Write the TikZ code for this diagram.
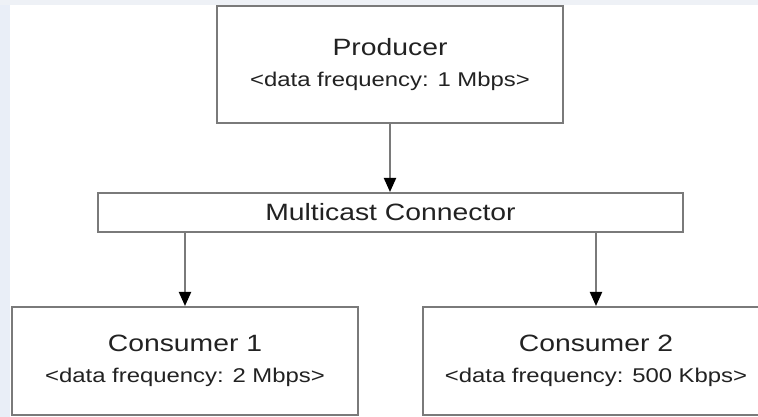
\documentclass[tikz,border=0pt]{standalone}
\usepackage{fontspec}
\setmainfont{Liberation Sans}
\newfontfamily\diafont[FakeStretch=1.2]{Liberation Sans}
\usetikzlibrary{arrows.meta}
\definecolor{ink}{HTML}{222222}
\definecolor{edge}{HTML}{7A7A7A}
\definecolor{slidebg}{HTML}{E9EEF7}
\definecolor{slidetop}{HTML}{EEF1F6}
\newcommand{\bigtxt}{\fontsize{23.6}{31}\selectfont}
\newcommand{\subtxt}{\fontsize{19.9}{31}\selectfont}

\begin{document}
\begin{tikzpicture}[x=1pt,y=1pt,font=\diafont,text=ink,
  comp/.style={draw=edge,line width=2pt,fill=white,minimum width=346pt,align=center,inner sep=0pt},
  conn/.style={draw=edge,line width=2pt,fill=white,minimum width=585pt,minimum height=39pt,inner sep=0pt},
  flow/.style={draw=edge,line width=2pt,-{Triangle[length=14pt,width=12pt,color=black]}}]

  \clip (0,0) rectangle (758,417);
  % slide background
  \fill[white] (0,0) rectangle (758,417);
  \fill[slidebg] (0,0) rectangle (10,417);
  \fill[slidetop] (0,412) rectangle (758,417);

  % components
  \node[comp,minimum height=117pt] (prod) at (390,352.5)
    {\bigtxt Producer\\[16pt]\subtxt <data frequency: 1 Mbps>};
  \node[conn] (mc) at (390.5,204.5) {\bigtxt Multicast Connector};
  \node[comp,minimum height=108pt] (cons1) at (185,56)
    {\bigtxt Consumer 1\\[16pt]\subtxt <data frequency: 2 Mbps>};
  \node[comp,minimum height=108pt] (cons2) at (596,56)
    {\bigtxt Consumer 2\\[16pt]\subtxt <data frequency: 500 Kbps>};

  % data flow
  \draw[flow] (prod.south) -- (prod.south|-mc.north);
  \draw[flow] (mc.south-|cons1.north) -- (cons1.north);
  \draw[flow] (mc.south-|cons2.north) -- (cons2.north);
\end{tikzpicture}
\end{document}
